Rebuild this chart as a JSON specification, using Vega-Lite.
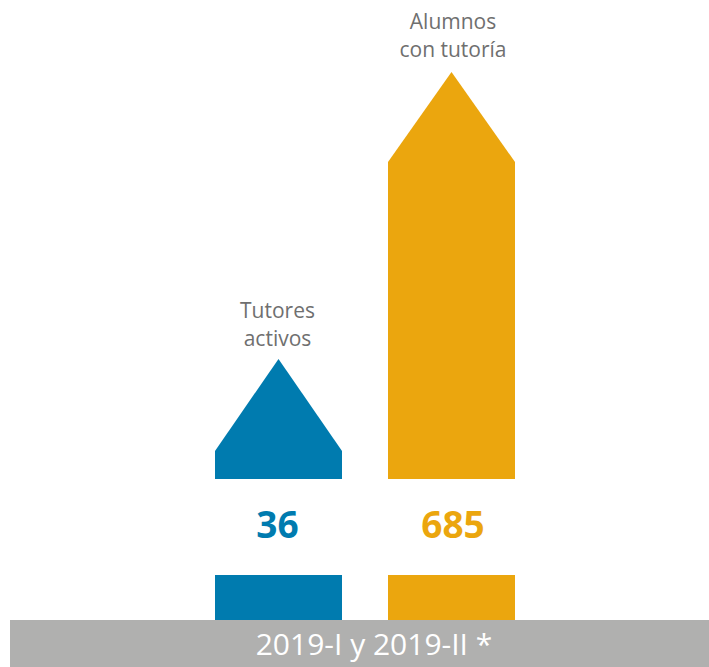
{
  "$schema": "https://vega.github.io/schema/vega-lite/v6.json",
  "width": 709,
  "height": 667,
  "autosize": {"type": "fit", "contains": "padding"},
  "padding": 0,
  "background": "white",
  "view": {"stroke": null},
  "config": {"axis": {"disable": true}, "legend": {"disable": true}},
  "datasets": {
    "band": [{"x": 10, "x2": 709, "y": 0, "y2": 47, "label": "2019-I y 2019-II *", "xc": 374, "yc": 21}],
    "bases": [
      {"serie": "Tutores activos", "x": 215, "x2": 342, "y": 47, "y2": 92},
      {"serie": "Alumnos con tutoría", "x": 388, "x2": 515, "y": 47, "y2": 92}
    ],
    "arrows": [
      {"serie": "Tutores activos", "x": 215, "top": 216, "bottom": 188},
      {"serie": "Tutores activos", "x": 278.5, "top": 308, "bottom": 188},
      {"serie": "Tutores activos", "x": 342, "top": 216, "bottom": 188},
      {"serie": "Alumnos con tutoría", "x": 388, "top": 505, "bottom": 188},
      {"serie": "Alumnos con tutoría", "x": 451.5, "top": 595, "bottom": 188},
      {"serie": "Alumnos con tutoría", "x": 515, "top": 505, "bottom": 188}
    ],
    "labels": [
      {"serie": "Tutores activos", "texto": "Tutores\nactivos", "valor": 36, "x": 277.5, "ylab": 355, "yval": 140},
      {"serie": "Alumnos con tutoría", "texto": "Alumnos\ncon tutoría", "valor": 685, "x": 453, "ylab": 644, "yval": 140}
    ]
  },
  "encoding": {},
  "layer": [
    {
      "data": {"name": "band"},
      "mark": {"type": "rect", "color": "#B0B0AF"},
      "encoding": {
        "x": {"field": "x", "type": "quantitative", "scale": {"domain": [0, 709], "nice": false, "zero": false}},
        "x2": {"field": "x2"},
        "y": {"field": "y", "type": "quantitative", "scale": {"domain": [0, 667], "nice": false, "zero": false}},
        "y2": {"field": "y2"}
      }
    },
    {
      "data": {"name": "band"},
      "mark": {"type": "text", "color": "white", "font": "Open Sans", "fontSize": 30, "align": "center", "baseline": "middle"},
      "encoding": {
        "x": {"field": "xc", "type": "quantitative"},
        "y": {"field": "yc", "type": "quantitative"},
        "text": {"field": "label"}
      }
    },
    {
      "data": {"name": "bases"},
      "mark": {"type": "rect"},
      "encoding": {
        "x": {"field": "x", "type": "quantitative"},
        "x2": {"field": "x2"},
        "y": {"field": "y", "type": "quantitative"},
        "y2": {"field": "y2"},
        "color": {"field": "serie", "type": "nominal", "scale": {"domain": ["Tutores activos", "Alumnos con tutoría"], "range": ["#007BAF", "#EBA60E"]}}
      }
    },
    {
      "data": {"name": "arrows"},
      "mark": {"type": "area"},
      "encoding": {
        "x": {"field": "x", "type": "quantitative"},
        "y": {"field": "top", "type": "quantitative"},
        "y2": {"field": "bottom"},
        "color": {"field": "serie", "type": "nominal"}
      }
    },
    {
      "data": {"name": "labels"},
      "mark": {"type": "text", "font": "Open Sans", "fontSize": 37, "fontWeight": "bold", "align": "center", "baseline": "middle"},
      "encoding": {
        "x": {"field": "x", "type": "quantitative"},
        "y": {"field": "yval", "type": "quantitative"},
        "text": {"field": "valor", "type": "quantitative"},
        "color": {"field": "serie", "type": "nominal"}
      }
    },
    {
      "data": {"name": "labels"},
      "mark": {"type": "text", "font": "Open Sans", "fontSize": 21, "fontWeight": 500, "color": "#6F6F6F", "align": "center", "baseline": "middle", "lineBreak": "\n", "lineHeight": 28},
      "encoding": {
        "x": {"field": "x", "type": "quantitative"},
        "y": {"field": "ylab", "type": "quantitative"},
        "text": {"field": "texto"}
      }
    }
  ]
}
